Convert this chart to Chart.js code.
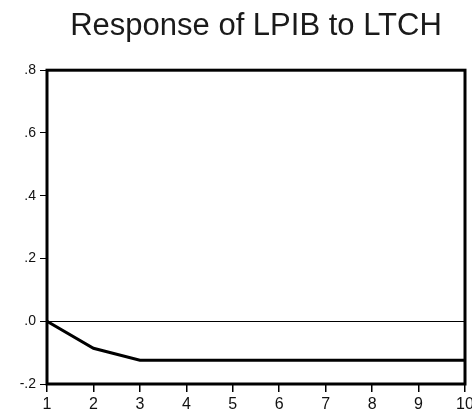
<!DOCTYPE html>
<html>
<head>
<meta charset="utf-8">
<script src="https://cdn.jsdelivr.net/npm/chart.js@4/dist/chart.umd.min.js"></script>
<style>
    html, body { margin: 0; padding: 0; background: #fff; }
    #wrap { width: 472px; height: 414px; }
</style>
</head>
<body>
<div id="wrap"><canvas id="chart" width="472" height="414"></canvas></div>
<script>
(function() {
    'use strict';

    // Data
    const periods = [1, 2, 3, 4, 5, 6, 7, 8, 9, 10];
    const response = [0.0, -0.086, -0.124, -0.124, -0.124, -0.124, -0.124, -0.124, -0.124, -0.124];
    const yTicks = [-0.2, 0.0, 0.2, 0.4, 0.6, 0.8];

    const points = periods.map(function(p, i) { return { x: p, y: response[i] }; });

    function fmtY(v) {
        return v.toFixed(1).replace('0.', '.');
    }

    // Thick frame around the plot area
    const framePlugin = {
        id: 'frame',
        afterDraw: function(chart) {
            const a = chart.chartArea;
            const ctx = chart.ctx;
            ctx.save();
            ctx.strokeStyle = '#000';
            ctx.lineWidth = 3;
            ctx.strokeRect(a.left, a.top, a.right - a.left, a.bottom - a.top);
            ctx.restore();
        }
    };

    Chart.defaults.font.family = '"Liberation Sans", Arial, sans-serif';
    Chart.defaults.color = '#111';

    new Chart(document.getElementById('chart'), {
        type: 'line',
        data: {
            datasets: [{
                data: points,
                borderColor: '#000',
                borderWidth: 3,
                pointRadius: 0,
                tension: 0,
                fill: false
            }]
        },
        options: {
            responsive: false,
            animation: false,
            layout: { padding: { left: 0, right: 7, top: 0, bottom: 0 } },
            plugins: {
                legend: { display: false },
                tooltip: { enabled: false },
                title: {
                    display: true,
                    text: 'Response of LPIB to LTCH',
                    fullSize: false,
                    color: '#1a1a1a',
                    font: { size: 31, weight: 'normal', lineHeight: 1.2 },
                    padding: { top: 8, bottom: 25 }
                }
            },
            scales: {
                x: {
                    type: 'linear',
                    min: 1,
                    max: 10,
                    border: { display: false },
                    grid: { drawOnChartArea: false, tickColor: '#000', tickLength: 8, lineWidth: 1.5 },
                    ticks: { stepSize: 1, autoSkip: false, maxRotation: 0, padding: 3, font: { size: 16 } },
                    afterFit: function(s) { s.height = 30; s.paddingLeft = 0; s.paddingRight = 0; }
                },
                y: {
                    min: -0.2,
                    max: 0.8,
                    border: { display: false },
                    afterBuildTicks: function(s) { s.ticks = yTicks.map(function(v) { return { value: v }; }); },
                    grid: {
                        color: function(c) { return c.tick && Math.abs(c.tick.value) < 1e-9 ? '#000' : 'rgba(0,0,0,0)'; },
                        lineWidth: 1,
                        tickColor: '#000',
                        tickLength: 7
                    },
                    ticks: { padding: 4, font: { size: 14 }, callback: function(v) { return fmtY(v); } },
                    afterFit: function(s) { s.width = 47; s.paddingTop = 0; s.paddingBottom = 0; }
                }
            }
        },
        plugins: [framePlugin]
    });
})();
</script>
</body>
</html>
